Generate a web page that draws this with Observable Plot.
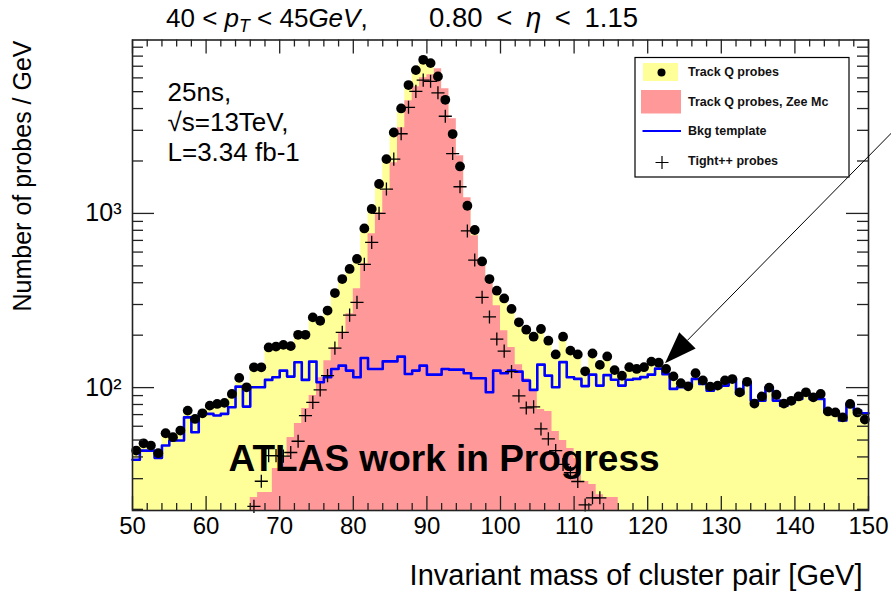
<!DOCTYPE html>
<html><head><meta charset="utf-8">
<script src="https://cdn.jsdelivr.net/npm/d3@7"></script>
<script src="https://cdn.jsdelivr.net/npm/@observablehq/plot@0.6"></script>
<style>
body{margin:0;background:#fff;}
#wrap{position:relative;width:891px;height:595px;font-family:"Liberation Sans",Arial,sans-serif;color:#000;}
.ttl{position:absolute;top:5px;font-size:26px;white-space:pre;line-height:1;}
#t1{left:166px;}
#t2{left:429px;top:4px;font-size:27.5px;word-spacing:6px;}
.ttl .s{font-size:0.68em;position:relative;top:0.3em;}
#wrap svg{position:absolute;left:0;top:0;}
</style></head><body><div id="wrap"><div class="ttl" id="t1">40 &lt; <i>p</i><span class="s"><i>T</i></span> &lt; 45<i>GeV</i>,</div><div class="ttl" id="t2">0.80 &lt; <i>η</i> &lt; 1.15</div></div>
<script>
// ---- data (1 GeV bins from 50 to 150 GeV) ----
const massMin = 50, massMax = 150, binWidth = 1;
const trackQ = [43.5,47.9,46.5,42,54.7,51.9,56.7,73.8,66.1,71.2,
  78.8,80.6,81.7,92,113.7,100.4,130.8,130.8,170,172,
  176,173,201,201,253,242,277,349,420,480,
  548,820,1060,1475,2050,2915,4005,5455,6650,7618,
  7293,6110,4490,2855,1861,1107,803,530,420,360,
  325,283,237,215,196,217,186,155,196,163,
  155,124,157,135,151,126,117,131,128,131,
  141,139,128,116,106,101.7,121,110,101.3,102.7,
  110,112,94,108,81,89,100,91,81,84,
  89,94,88,92,73,72,67.5,80.6,72,65.5];
const zeeStart = 66;
const zeeMC = [23.4,25,25,34.3,39.7,51.7,62.2,75.8,90,114.1,
  142.8,169.6,206.8,265.8,370,514,765,1009,1350,1954,
  3102,4433,5333,6005,6249,6764,5193,3494,2143,1230,
  745,514,400,295,212,170,135.5,112.6,96.1,74.8,
  72.8,55.9,49.7,44.7,39.2,28.9,27.8,24.3,23.4,23.4];
const bkgTemplate = [38.5,43.5,43.5,39.5,46.5,49.7,49.7,67.5,55.4,70.7,
  70.7,69.1,70.7,77.1,101.3,77.8,100.4,100.4,110.7,114.6,
  125.2,115.7,139.7,110.7,141,107.3,114.6,128,133.7,125.2,
  114.6,148,128,128,141.5,141.5,150.6,119.8,125.2,133.7,
  118.7,118.7,128,126.8,126.8,120.8,113.1,113.1,94,125.2,
  120.8,125.2,123.5,109.7,97,135.5,117.2,100.4,140,114.6,
  112.2,102,118.7,102.7,118,111,102.7,111,112.2,114.9,
  118.7,128.5,119.5,98.3,100.7,102.7,112.2,105,96.1,100.4,
  102.7,112.2,92,107.3,84.2,84.2,100.4,84.2,78.8,82.3,
  86.1,92,86.1,86.1,72.1,70.7,64.7,80.6,73.8,71.2];
const tightStart = 66;
const tightPP = [20.8,29,40.7,40.7,40.4,42.4,49.2,69.1,82.3,97,
  117.2,168.5,207.6,260.6,308.6,510,682,1000,1380,2050,
  2866,4068,5023,5826,5734,4926,3612,2207,1423,793,
  540,330,254.5,190,162,123.5,89.6,76.4,77.5,57.9,
  50.8,43.5,36.2,32.5,28.9,21.2,23.3,23.3];
const xTicksMajor = d3.range(50, 151, 10);
const xTicksMinor = d3.range(50, 151, 2).filter(d => d % 10 !== 0);
const yTicksMajor = [100, 1000];
const yTickLabels = {100: "10²", 1000: "10³"};
const yTicksMinor = [20,30,40,50,60,70,80,90,200,300,400,500,600,700,800,900,2000,3000,4000,5000,6000,7000,8000,9000];
const yDomain = [19.7, 9900];
const arrowFrom = [154.35, 3228];
const arrowTip = [122.42, 137.3];
const legendItems = ["Track Q probes", "Track Q probes, Zee Mc", "Bkg template", "Tight++ probes"];

// ---- tables ----
const binsOf = (arr, start) => arr.map((v, i) => ({lo: start + i * binWidth, hi: start + (i + 1) * binWidth, c: start + (i + 0.5) * binWidth, v}));
const stepPts = (bins) => [...bins.map(b => ({x: b.lo, v: b.v})), {x: bins[bins.length - 1].hi, v: bins[bins.length - 1].v}];
const qBins = binsOf(trackQ, massMin);
const zBins = binsOf(zeeMC, zeeStart);
const bBins = binsOf(bkgTemplate, massMin);
const tBins = binsOf(tightPP, tightStart);

const W = 891, H = 595, mL = 132, mR = 23, mT = 39.5, mB = 85;
const innerW = W - mL - mR, innerH = H - mT - mB;
const YEL = "#ffff99", PINK = "#ff9999", BLUE = "#0000ff", AX = "#222";

function overlay(index, scales, values, dims) {
  const g = d3.create("svg:g").attr("text-anchor", "start");
  // arrow
  const x0 = scales.x(arrowFrom[0]), y0 = scales.y(arrowFrom[1]);
  const xt = scales.x(arrowTip[0]), yt = scales.y(arrowTip[1]);
  const dx = xt - x0, dy = yt - y0, len = Math.hypot(dx, dy), ux = dx / len, uy = dy / len;
  const L = 32, HW = 11.5;
  const bx = xt - ux * L, by = yt - uy * L;
  g.append("line").attr("x1", x0).attr("y1", y0).attr("x2", bx).attr("y2", by).attr("stroke", "#000").attr("stroke-width", 1);
  g.append("path").attr("d", `M${xt},${yt}L${bx - uy * HW},${by + ux * HW}L${bx + uy * HW},${by - ux * HW}Z`).attr("fill", "#000");
  // legend
  const lg = g.append("g");
  lg.append("rect").attr("x", 635).attr("y", 57.5).attr("width", 214).attr("height", 119.5).attr("fill", "#fff").attr("stroke", "#000").attr("stroke-width", 1.2);
  lg.append("rect").attr("x", 643).attr("y", 63).attr("width", 35).attr("height", 18).attr("fill", YEL);
  lg.append("circle").attr("cx", 661.5).attr("cy", 72.5).attr("r", 4).attr("fill", "#000");
  lg.append("rect").attr("x", 641).attr("y", 90).attr("width", 40).attr("height", 23.5).attr("fill", PINK);
  lg.append("line").attr("x1", 642.5).attr("x2", 681).attr("y1", 131).attr("y2", 131).attr("stroke", BLUE).attr("stroke-width", 2);
  lg.append("path").attr("d", "M655.5,162.5h13M662,156v13").attr("stroke", "#000").attr("stroke-width", 1.2);
  const ty = [72, 102, 131, 161];
  legendItems.forEach((t, i) => {
    lg.append("text").attr("x", 688).attr("y", ty[i]).attr("dy", "0.35em").attr("text-anchor", "start")
      .attr("font-size", 12.5).attr("font-weight", "bold").attr("fill", "#111").text(t);
  });
  return g.node();
}

const plot = Plot.plot({
  width: W, height: H,
  marginLeft: mL, marginRight: mR, marginTop: mT, marginBottom: mB,
  style: {fontFamily: '"Liberation Sans", Arial, sans-serif', background: "transparent", overflow: "visible"},
  x: {domain: [massMin, massMax]},
  y: {type: "log", domain: yDomain},
  marks: [
    Plot.areaY(stepPts(qBins), {x: "x", y1: yDomain[0], y2: "v", curve: "step-after", fill: YEL}),
    Plot.areaY(stepPts(zBins), {x: "x", y1: yDomain[0], y2: "v", curve: "step-after", fill: PINK}),
    Plot.line(stepPts(bBins), {x: "x", y: "v", curve: "step-after", stroke: BLUE, strokeWidth: 2.6}),
    Plot.dot(qBins, {x: "c", y: "v", r: 4.9, fill: "#000"}),
    Plot.dot(tBins, {x: "c", y: "v", symbol: "plus", r: 4.3, stroke: "#000", strokeWidth: 1.3}),
    // ticks (inward, all four sides)
    Plot.tickX(xTicksMajor, {x: d => d, insetTop: innerH - 14, stroke: AX, strokeWidth: 1.3}),
    Plot.tickX(xTicksMinor, {x: d => d, insetTop: innerH - 7, stroke: AX, strokeWidth: 1.3}),
    Plot.tickX(xTicksMajor, {x: d => d, insetBottom: innerH - 14, stroke: AX, strokeWidth: 1.3}),
    Plot.tickX(xTicksMinor, {x: d => d, insetBottom: innerH - 7, stroke: AX, strokeWidth: 1.3}),
    Plot.tickY(yTicksMajor, {y: d => d, insetRight: innerW - 22, stroke: AX, strokeWidth: 1.3}),
    Plot.tickY(yTicksMinor, {y: d => d, insetRight: innerW - 11, stroke: AX, strokeWidth: 1.3}),
    Plot.tickY(yTicksMajor, {y: d => d, insetLeft: innerW - 22, stroke: AX, strokeWidth: 1.3}),
    Plot.tickY(yTicksMinor, {y: d => d, insetLeft: innerW - 11, stroke: AX, strokeWidth: 1.3}),
    Plot.frame({stroke: AX, strokeWidth: 1.6}),
    Plot.axisX({ticks: xTicksMajor, tickSize: 0, tickPadding: 6, fontSize: 24, tickFormat: d => String(d), label: null}),
    Plot.axisY({ticks: yTicksMajor, tickSize: 0, tickPadding: 11, fontSize: 25, tickFormat: d => yTickLabels[d], label: null}),
    // texts
    Plot.text(["25ns,\n√s=13TeV,\nL=3.34 fb-1"], {frameAnchor: "top-left", dx: 35, dy: 40, lineAnchor: "top", textAnchor: "start", fontSize: 26, lineHeight: 1.154, fill: "#000"}),
    Plot.text(["ATLAS work in Progress"], {frameAnchor: "bottom-left", dx: 96, dy: -40, lineAnchor: "bottom", textAnchor: "start", fontSize: 37, fontWeight: "bold", fill: "#000"}),
    Plot.text(["Number of probes / GeV"], {frameAnchor: "top-left", dx: -110, dy: 0.5, rotate: -90, textAnchor: "end", lineAnchor: "middle", fontSize: 25, fill: "#000"}),
    Plot.text(["Invariant mass of cluster pair [GeV]"], {frameAnchor: "bottom-right", dx: -6, dy: 74, lineAnchor: "bottom", textAnchor: "end", fontSize: 29, fill: "#000"}),
    overlay
  ]
});
document.getElementById("wrap").prepend(plot);
</script></body></html>
